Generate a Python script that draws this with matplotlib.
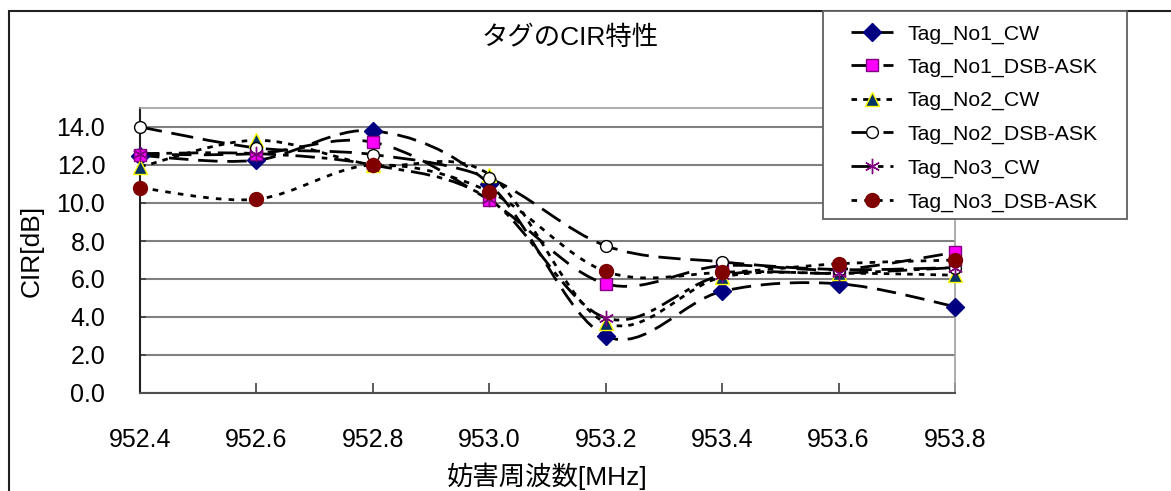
import numpy as np
import matplotlib
matplotlib.use('Agg')
import matplotlib.pyplot as plt
from matplotlib.path import Path
from matplotlib.patches import PathPatch, Rectangle
from matplotlib.lines import Line2D

plt.rcParams['font.family'] = ['Liberation Sans', 'Noto Sans CJK JP']

# data
freq = [952.4, 952.6, 952.8, 953.0, 953.2, 953.4, 953.6, 953.8]
tag1_cw = [12.5, 12.25, 13.8, 11.0, 3.0, 5.35, 5.75, 4.55]
tag1_dsb = [12.55, 12.6, 13.2, 10.15, 5.75, 6.7, 6.5, 7.4]
tag2_cw = [11.9, 13.3, 12.0, 11.5, 3.7, 6.1, 6.3, 6.2]
tag2_dsb = [14.0, 12.9, 12.55, 11.3, 7.75, 6.9, 6.5, 6.6]
tag3_cw = [12.6, 12.6, 12.0, 10.2, 3.95, 6.2, 6.3, 6.6]
tag3_dsb = [10.8, 10.2, 12.0, 10.6, 6.4, 6.35, 6.8, 7.0]

names = ['Tag_No1_CW', 'Tag_No1_DSB-ASK', 'Tag_No2_CW',
         'Tag_No2_DSB-ASK', 'Tag_No3_CW', 'Tag_No3_DSB-ASK']
series = [tag1_cw, tag1_dsb, tag2_cw, tag2_dsb, tag3_cw, tag3_dsb]

styles = [
    dict(marker='D', ms=9, mfc='#000080', mec='#000080', ls=(0, (7, 3.5))),
    dict(marker='s', ms=9, mfc='#FF00FF', mec='#800080', ls=(0, (7, 4.5))),
    dict(marker='^', ms=10, mfc='#003366', mec='#FFFF00', ls=(0, (2, 2.2))),
    dict(marker='o', ms=8.5, mfc='white', mec='black', ls=(0, (8, 3.5))),
    dict(marker=(6, 2, 0), ms=11, mfc='#800080', mec='#800080', ls=(0, (7, 2.5, 2, 2.5))),
    dict(marker='o', ms=10, mfc='#800000', mec='#800000', ls=(0, (2, 2.6))),
]
LW = 2.0


def smooth_path(x, y):
    # Excel-like smoothed line: Bezier segments through the points
    p = np.column_stack([x, y]).astype(float)
    ext = np.vstack([p[0], p, p[-1]])
    verts = [p[0]]
    codes = [Path.MOVETO]
    for i in range(len(p) - 1):
        p0, p1, p2, p3 = ext[i], ext[i + 1], ext[i + 2], ext[i + 3]
        c1 = p1 + (p2 - p0) / 6.0
        c2 = p2 - (p3 - p1) / 6.0
        verts += [c1, c2, p2]
        codes += [Path.CURVE4] * 3
    return Path(verts, codes)


fig = plt.figure(figsize=(11.71, 4.91), dpi=100)
W, H = 1171.0, 491.0
ax = fig.add_axes([140 / W, 1 - 393 / H, 815 / W, 285 / H])

for ys, st in zip(series, styles):
    ax.add_patch(PathPatch(smooth_path(freq, ys), fill=False, edgecolor='black',
                           lw=LW, ls=st['ls'], zorder=3, capstyle='butt'))
for i, (ys, st) in enumerate(zip(series, styles)):
    ax.plot(freq, ys, ls='none', marker=st['marker'], ms=st['ms'],
            mfc=st['mfc'], mec=st['mec'], mew=1.0, zorder=4 + i, clip_on=False)

ax.set_xlim(952.4, 953.8)
ax.set_ylim(0, 15)
ax.set_xticks(freq)
ax.set_xticklabels(['%.1f' % f for f in freq])
ax.set_yticks(np.arange(0, 15, 2))
ax.set_yticklabels(['%.1f' % v for v in np.arange(0, 15, 2)])
ax.tick_params(axis='x', direction='in', length=7, width=1.2, color='#404040',
               labelsize=18, pad=25)
ax.tick_params(axis='y', direction='in', length=4, width=1.2, color='#404040',
               labelsize=18, pad=25)
ax.grid(axis='y', color='#808080', lw=1.5)
ax.set_axisbelow(True)
for s in ['top', 'right']:
    ax.spines[s].set_color('#a0a0a0')
    ax.spines[s].set_linewidth(1.2)
ax.spines['left'].set_color('#202020')
ax.spines['bottom'].set_color('#505050')
ax.spines['left'].set_linewidth(1.5)
ax.spines['bottom'].set_linewidth(1.5)

ax.set_xlabel('妨害周波数[MHz]', fontsize=19, labelpad=8)
ax.set_ylabel('CIR[dB]', fontsize=19, labelpad=9)
fig.text(570 / W, 1 - 38 / H, 'タグのCIR特性', fontsize=19, ha='center', va='center')

# legend box drawn by hand to match the placement
fig.patches.append(Rectangle((823 / W, 1 - 219 / H), (1127 - 823) / W, (219 - 11) / H,
                             transform=fig.transFigure, facecolor='white',
                             edgecolor='#606060', lw=1.3, zorder=20))
row_y = [32, 65, 98.5, 132, 166, 200]
for name, st, ry in zip(names, styles, row_y):
    yy = 1 - ry / H
    fig.add_artist(Line2D([851 / W, 893 / W], [yy, yy], transform=fig.transFigure,
                          color='black', lw=LW, ls=st['ls'], zorder=21))
    fig.add_artist(Line2D([872 / W], [yy], transform=fig.transFigure, ls='none',
                          marker=st['marker'], ms=st['ms'], mfc=st['mfc'],
                          mec=st['mec'], mew=1.0, zorder=22))
    fig.text(908 / W, yy, name, fontsize=15.3, ha='left', va='center_baseline', zorder=23)

fig.patches.append(Rectangle((9 / W, -0.2), 2, 1 - 11 / H + 0.2, transform=fig.transFigure,
                             fill=False, edgecolor='#202020', lw=1.5, zorder=0))

fig.savefig('out.png', dpi=100)
